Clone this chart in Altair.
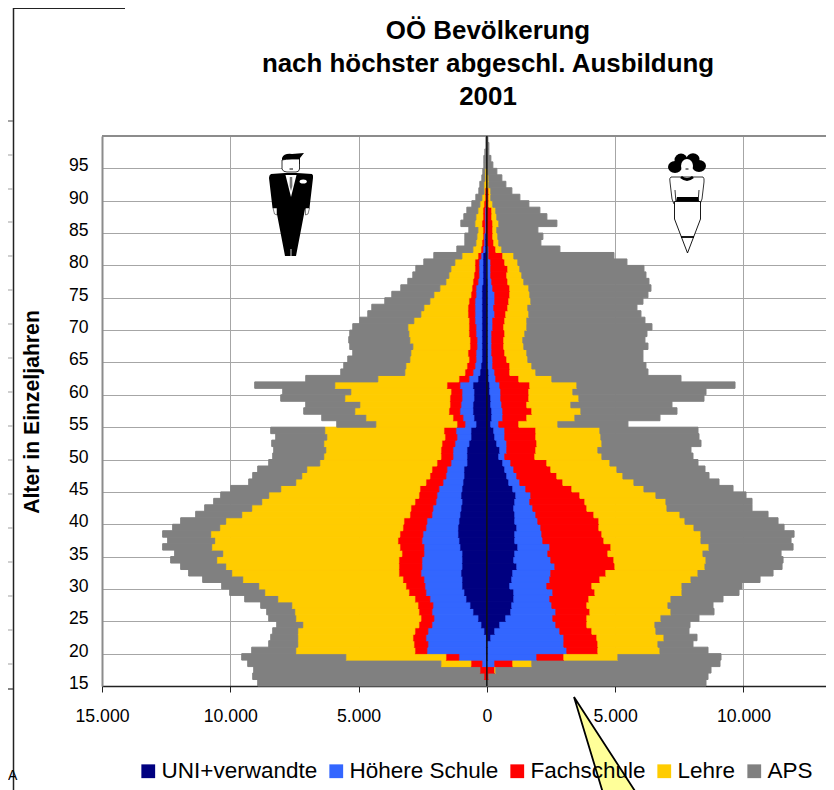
import urllib.parse
import altair as alt
import pandas as pd

ages = list(range(15, 100))
series = ["UNI+verwandte", "Höhere Schule", "Fachschule", "Lehre", "APS"]
colors = ["#000080", "#3366FF", "#FF0000", "#FFCC00", "#808080"]

# Cumulative totals per age (15..99), in persons, from the axis outward
m_uni = [0,0,0,0,0,39,39,39,117,234, 351,546,663,819,897,975,975,1014,975,975,
         975,1053,1092,1131,1131,1092,1053,1014,975,1014, 975,936,897,897,780,780,780,702,624,624,
         429,507,546,546,507,507,546,351,273,234, 195,195,195,195,195,195,195,195,195,195,
         195,195,156,156,156,156,156,78,78,78, 39,39,39,39,13,13,13,0,0,0, 0,0,0,0,0]
m_hs = [0,0,0,195,1092,2340,2301,2379,2301,2145, 2067,2145,2106,2223,2379,2418,2457,2574,2535,2535,
        2457,2457,2535,2496,2379,2340,2145,2106,1989,1950, 1872,1716,1599,1560,1404,1326,1326,1248,1170,1209,
        858,936,1053,1014,975,975,1053,702,546,468, 429,429,390,390,429,429,468,468,468,468,
        429,429,351,312,312,312,234,156,117,117, 78,78,78,78,39,39,39,0,0,0, 0,0,0,0,0]
m_fach = [0,117,273,624,1599,2808,2847,2886,2808,2652, 2574,2652,2691,2808,3042,3159,3276,3432,3432,3432,
          3315,3393,3471,3393,3276,3237,3003,2964,2808,2652, 2613,2379,2223,2145,1950,1794,1794,1755,1638,1677,
          1170,1326,1482,1443,1443,1404,1560,1092,858,780, 702,741,663,663,702,702,702,741,741,702,
          624,585,546,507,468,468,351,234,195,156, 156,195,156,156,117,78,78,39,39,0, 0,0,0,0,0]
m_lehre = [0,0,0,1794,5499,7449,7371,7371,7371,7176, 7449,7488,7605,8151,8658,8892,9516,9945,10179,10530,
           10296,10725,10608,10764,10413,10179,9555,9165,8775,8502, 8034,7449,7215,7020,6513,6357,6279,6357,6240,6318,
           4329,4719,5148,4953,5538,5304,5928,4251,3198,3159, 3003,2964,2886,3003,3042,3081,2847,2574,2457,2223,
           2067,1833,1599,1482,1404,1248,975,546,429,390, 351,468,429,351,273,195,117,117,78,78, 39,0,0,0,0]
m_aps = [8931,9126,9087,9321,9555,9165,8502,8424,8346,8190, 8502,8580,8814,9438,10023,10335,11076,11622,11934,12324,
         12168,12636,12441,12636,12246,11934,11349,10998,10647,10374, 9984,9282,9126,8931,8502,8346,8307,8385,8229,8424,
         5850,6435,7137,7059,8034,7956,9048,7059,5694,5577, 5421,5226,5343,5382,5343,5226,4953,4641,4485,3978,
         3705,3354,3081,2886,2769,2457,2067,1170,858,858, 702,1014,897,780,585,429,312,273,195,156, 117,117,78,39,39]

f_uni = [0,0,0,0,39,39,39,156,312,507, 741,936,975,1053,1053,897,975,1014,1170,1053,
         1092,1209,1092,1092,1170,1092,1092,1053,1092,1131, 1014,858,780,702,624,468,507,390,312,273,
         156,195,195,156,156,117,117,78,78,39, 39,39,39,39,39,39,39,39,39,39,
         39,39,39,0,0,0,0,0,0,0, 0,0,0,0,0,0,0,0,0,0, 0,0,0,0,0]
f_hs = [0,0,0,312,1950,3120,3003,3003,2847,2691, 2574,2691,2535,2457,2574,2340,2457,2496,2652,2496,
        2379,2457,2184,2145,2106,1989,1911,1794,1677,1716, 1521,1287,1170,1053,936,702,780,780,702,702,
        468,624,624,585,546,546,507,351,312,234, 234,195,195,195,195,234,234,312,273,312,
        312,234,195,156,156,156,78,78,39,39, 0,0,0,0,0,0,0,0,0,0, 0,0,0,0,0]
f_fach = [0,78,312,1014,3003,4329,4329,4290,4095,3900, 3900,4017,3900,3978,4212,4095,4407,4641,4992,4953,
          4719,4836,4563,4485,4368,4368,4173,3900,3822,3627, 3315,2964,2730,2496,2340,1872,1911,1950,1911,1911,
          1248,1560,1755,1560,1638,1638,1677,1248,897,897, 780,702,663,663,702,663,702,741,819,858,
          897,897,819,780,819,702,624,351,273,234, 234,234,195,195,78,78,78,0,0,0, 0,0,0,0,0]
f_lehre = [0,0,351,1755,5109,6747,6669,6903,6591,6552, 6786,7176,7059,7176,7605,7605,7956,8229,8502,8541,
           8424,8658,8346,8346,8073,7722,7527,7020,6981,6591, 6123,5733,5304,5070,4797,4485,4329,4485,4446,4407,
           2769,3432,3666,3276,3588,3354,3510,2535,1911,1755, 1599,1560,1443,1404,1482,1560,1560,1638,1599,1716,
           1677,1638,1443,1365,1287,1209,1053,585,468,429, 390,468,390,351,234,156,156,78,78,39, 0,0,0,0,0]
f_aps = [8541,8619,8736,9087,9126,8619,8034,8190,7878,7917, 8268,8853,8814,9204,9828,9945,10647,11154,11505,11544,
         11466,11934,11856,11973,11583,11349,10959,10335,10335,10101, 9594,9048,8658,8502,8229,8034,7956,8346,8268,8229,
         5499,6747,7410,7215,8463,8541,9672,7566,6279,6201, 6084,6084,6279,6162,6240,6435,6162,6006,5850,6084,
         6279,6396,6318,6201,6123,5460,4953,2847,2106,2184, 1989,2730,2340,2067,1638,1287,975,741,585,390,
         234,156,78,78,39]

rows = []
for sign, cols in ((-1, [m_uni, m_hs, m_fach, m_lehre, m_aps]), (1, [f_uni, f_hs, f_fach, f_lehre, f_aps])):
    for i, age in enumerate(ages):
        prev = 0
        for name, col in zip(series, cols):
            cur = max(col[i], prev)
            if cur > prev:
                rows.append({"lo": age, "hi": age + 1, "a": sign * prev, "b": sign * cur, "s": name})
            prev = cur
df = pd.DataFrame(rows)

FONT = "Liberation Sans"
x_scale = alt.Scale(domain=[-15000, 13218], nice=False, zero=False)
y_scale = alt.Scale(domain=[15, 100], nice=False, zero=False)

bars = alt.Chart(df).mark_rect(strokeWidth=1).encode(
    x=alt.X("a:Q", scale=x_scale, axis=alt.Axis(
        values=[-15000, -10000, -5000, 0, 5000, 10000], title=None, grid=True,
        gridColor="#A6A6A6", gridWidth=1, domainColor="#222222", domainWidth=1.5,
        tickColor="#222222", tickSize=6, labelPadding=15, labelFont=FONT, labelFontSize=17.7,
        labelColor="#000000", labelFlush=False, labelOverlap=False,
        labelExpr="replace(format(abs(datum.value), ','), ',', '.')")),
    x2="b:Q",
    y=alt.Y("lo:Q", scale=y_scale, axis=alt.Axis(
        values=list(range(15, 100, 5)), title=None, grid=True,
        gridColor="#A6A6A6", gridWidth=1, domainColor="#8C8C8C", domainWidth=2,
        tickSize=0, labelPadding=14, labelOffset=-2.5, labelFont=FONT, labelFontSize=17.6,
        labelColor="#000000", labelFlush=False, labelOverlap=False)),
    y2="hi:Q",
    color=alt.Color("s:N", scale=alt.Scale(domain=series, range=colors), legend=alt.Legend(
        title=None, orient="none", legendX=35, legendY=624, direction="horizontal", columns=5,
        gridAlign="none", columnPadding=7, padding=0, symbolType="square", symbolSize=190,
        symbolStrokeWidth=0, labelOffset=2, labelFont=FONT, labelFontSize=22.5, labelColor="#000000",
        labelLimit=300)),
    stroke=alt.Stroke("s:N", scale=alt.Scale(domain=series, range=colors), legend=None),
)

zero_line = alt.Chart(alt.Data(values=[{"v": 0}])).mark_rule(color="#111111", strokeWidth=1.5).encode(
    x=alt.X("v:Q", scale=x_scale))
top_border = alt.Chart(alt.Data(values=[{"v": 0}])).mark_rule(color="#8C8C8C", strokeWidth=2).encode(
    y=alt.value(0), x=alt.value(0), x2=alt.value(724))

# Remnants of the worksheet behind the chart
page_line = alt.Chart(alt.Data(values=[{"v": 0}])).mark_rule(color="#222222", strokeWidth=1.5).encode(
    x=alt.value(-88.5), y=alt.value(-128), y2=alt.value(654))
page_top = alt.Chart(alt.Data(values=[{"v": 0}])).mark_rule(color="#222222", strokeWidth=1.2).encode(
    x=alt.value(-89), x2=alt.value(23), y=alt.value(-127.5))
stub_pos = [-15, 19, 53, 86, 120, 154, 188, 222, 256, 290, 324, 358, 392, 426, 460, 494, 528, 553]
stub_col = ["#666666"] + ["#B0B0B0"] * 16 + ["#333333"]
stubs = alt.Chart(pd.DataFrame({"p": stub_pos, "c": stub_col})).mark_rule(strokeWidth=1.2).encode(
    y=alt.Y("p:Q", scale=None), x=alt.value(-94), x2=alt.value(-89),
    color=alt.Color("c:N", scale=None))

def text(label, px, py, **kw):
    return alt.Chart(alt.Data(values=[{"t": label}])).mark_text(font=FONT, color="#000000", **kw).encode(
        text="t:N", x=alt.value(px), y=alt.value(py))

title_lines = ["OÖ Bevölkerung", "nach höchster abgeschl. Ausbildung", "2001"]
titles = [text(t, 386, py, fontSize=25.9, fontWeight="bold", align="center", baseline="middle")
          for t, py in zip(title_lines, [-105, -72, -39])]
y_title = text("Alter in Einzeljahren", -69, 276, angle=270, fontSize=21.2, fontWeight="bold", align="center", baseline="middle")
stray = text("A", -94, 647, fontSize=14, align="left", baseline="bottom")

def image(svg, px, py, w, h):
    uri = "data:image/svg+xml," + urllib.parse.quote(svg)
    return alt.Chart(alt.Data(values=[{"u": uri}])).mark_image(width=w, height=h, align="left", baseline="top").encode(
        url="u:N", x=alt.value(px), y=alt.value(py))

man_svg = (
    '<svg xmlns="http://www.w3.org/2000/svg" viewBox="260 150 64 110" width="64" height="110">'
    '<path d="M282 164 L282 158 Q284 153 292 154 L304 153 L300 158 L300 164 Z" fill="#000"/>'
    '<path d="M282 160 L282 169 Q283 172 287 172 L296 172 Q299 172 299.5 169 L299.5 159 L292 159 Q286 159 282 160Z" fill="#fff" stroke="#000" stroke-width="0.8"/>'
    '<path d="M289.5 169 L293 169" stroke="#000" stroke-width="1"/>'
    '<path d="M271 174 L285 173 L297 173 L312 174 Q313.5 175 313 178 L309.5 208 L305 209 L296 256 L285 256 L276 209 L272.5 208 L269 178 Q269 175 271 174Z" fill="#000"/>'
    '<path d="M273 208 L277 208 L277 215 L274.5 214 Z M305.5 208 L309.5 208 L308 214 L305.5 215 Z" fill="#fff" stroke="#000" stroke-width="0.5"/>'
    '<path d="M285.5 175 L296.5 175 L291 197Z" fill="#fff"/>'
    '<path d="M289.8 177 L292.2 177 L292.4 186 L291 191 L289.6 186Z" fill="#777"/>'
    '<ellipse cx="303.2" cy="181.5" rx="3.6" ry="2" fill="#fff"/>'
    '<path d="M291 249 L291 256" stroke="#999" stroke-width="1.4"/>'
    '</svg>')

woman_svg = (
    '<svg xmlns="http://www.w3.org/2000/svg" viewBox="660 150 54 110" width="54" height="110">'
    '<ellipse cx="675" cy="167" rx="7" ry="6" fill="#000"/>'
    '<ellipse cx="681" cy="160" rx="6.5" ry="6.5" fill="#000"/>'
    '<ellipse cx="693" cy="159" rx="6.5" ry="5.8" fill="#000"/>'
    '<ellipse cx="699" cy="166" rx="7" ry="6" fill="#000"/>'
    '<ellipse cx="687" cy="166" rx="6" ry="7" fill="#fff"/>'
    '<path d="M685.5 169 L688.5 169" stroke="#000" stroke-width="1"/>'
    '<path d="M671 177 L703 177 Q704.5 178 704 182 L702 199 L700 204 L698 203 L699 190 M671 177 Q669 178 670 182 L672 199 L674 204 L676 203 L675 190" fill="none" stroke="#000" stroke-width="0.8"/>'
    '<path d="M681 177 Q687 182 693 177" fill="none" stroke="#000" stroke-width="2.8"/>'
    '<path d="M677 197 L698 197 L699 201.5 L676 201.5Z" fill="#000"/>'
    '<path d="M674.5 201.5 L700.5 201.5 L700.5 219 L687.5 253 L674.5 219Z" fill="#fff" stroke="#000" stroke-width="0.9"/>'
    '<path d="M681 237 L694 237" stroke="#000" stroke-width="1.8"/>'
    '</svg>')

callout_svg = (
    '<svg xmlns="http://www.w3.org/2000/svg" viewBox="560 690 90 100" width="90" height="100">'
    '<path d="M574 697 L602.7 792 L635.6 792 Z" fill="#FFFF99" stroke="#000" stroke-width="1.8" stroke-linejoin="miter"/>'
    '</svg>')

man = image(man_svg, 260 - 102, 150 - 136, 64, 110)
woman = image(woman_svg, 660 - 102, 150 - 136, 54, 110)
callout = image(callout_svg, 560 - 102, 690 - 136, 90, 100)

chart = alt.layer(page_line, page_top, stubs, top_border, bars, zero_line, y_title, stray, *titles, man, woman, callout).properties(
    width=724, height=550,
    padding={"left": 94, "top": 128, "right": 0, "bottom": 104},
    autosize=alt.AutoSizeParams(type="none"),
).configure_view(stroke=None)

chart.save("out.html", embed_options={"renderer": "svg", "actions": False})
